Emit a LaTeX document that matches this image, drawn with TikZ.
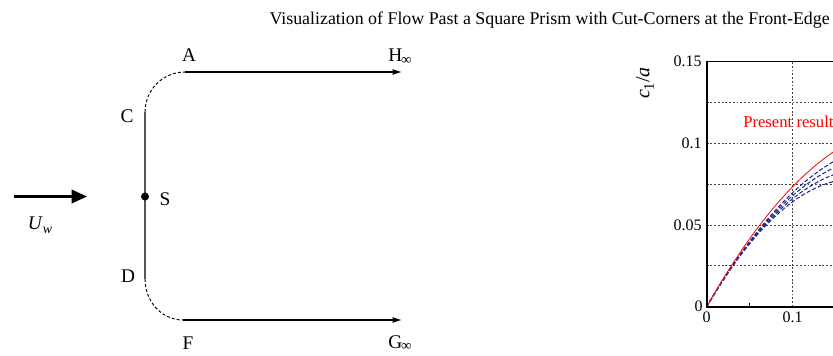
\documentclass[tikz,border=0pt]{standalone}
\usepackage{fontspec}
\setmainfont{Liberation Serif}
\usetikzlibrary{arrows.meta}
\definecolor{wallgray}{HTML}{555555}
\definecolor{simblue}{HTML}{1F2A8C}

\begin{document}
\begin{tikzpicture}[
  x=0.75pt, y=-0.75pt,
  lbl/.style={inner sep=0pt,font=\fontsize{14.5}{16}\selectfont},
  flow/.style={-{Latex[length=7pt,width=4.5pt]},line width=0.9pt},
  wall/.style={draw=wallgray,line width=1.4pt},
  cutedge/.style={dash pattern=on 2.2pt off 1.6pt,line width=0.7pt},
  ticklbl/.style={inner sep=0pt,font=\fontsize{12}{12}\selectfont},
  gridline/.style={black!75,dash pattern=on 1.4pt off 1.4pt,line width=0.6pt},
  axis/.style={line width=1.3pt},
  sim/.style={simblue,dash pattern=on 3pt off 1.6pt,line width=0.8pt}
]
\useasboundingbox (0,0) rectangle (833,356);

% running head
\node[anchor=base east,inner sep=0pt,font=\fontsize{13.4}{14}\selectfont] (title) at (830,25)
  {Visualization of Flow Past a Square Prism with Cut-Corners at the Front-Edge};

% front face and free streamlines
\coordinate (c) at (145,112);
\coordinate (d) at (145,279);
\coordinate (a) at (185,72);
\coordinate (f) at (183,320);
\coordinate (hinf) at (402,72);
\coordinate (ginf) at (402,320);
\draw[wall] (c) -- (d);
\node[circle,fill,inner sep=0pt,minimum size=6pt] (s) at (145,196.5) {};
\draw[cutedge] (c) to[out=90,in=180] (a);
\draw[cutedge] (d) to[out=-90,in=180] (f);
\draw[flow] (a) -- (hinf);
\draw[flow] (f) -- (ginf);

\node[lbl] (lblA) at (189,55) {A};
\node[lbl] (lblC) at (127,116) {C};
\node[lbl] (lblS) at (165,199) {S};
\node[lbl] (lblD) at (128,276) {D};
\node[lbl] (lblF) at (188,343) {F};
\node[lbl] (lblH) at (400,57) {H\kern-1pt\raisebox{-0.3ex}{\fontsize{11}{11}\selectfont ∞}};
\node[lbl] (lblG) at (400,343) {G\kern-1pt\raisebox{-0.3ex}{\fontsize{11}{11}\selectfont ∞}};

% oncoming stream
\coordinate (uw0) at (14,196.5);
\coordinate (uw1) at (87,196.5);
\draw[-{Triangle[length=11.5pt,width=10pt]},line width=1.8pt] (uw0) -- (uw1);
\node[lbl] (uw) at (40,225) {\textit{U}\raisebox{-0.5ex}{\fontsize{10.5}{10}\selectfont\itshape w}};

% plot c1/a
\begin{scope}[shift={(706.7,306.7)},x=645pt,y=1225.5pt]
  \begin{scope}
    \clip (-0.02,-0.02) rectangle (0.14686,0.16);
    \foreach \v in {0.025,0.05,0.075,0.1,0.125}
      \draw[gridline] (0,\v) -- (0.2,\v);
    \draw[gridline] (0.1,0) -- (0.1,0.15);
    \draw[line width=0.6pt] (0.05,0) -- (0.05,0.002);
    \foreach \b in {2.02,2.2,2.39,2.58}
      \draw[sim,domain=0:0.16,samples=40] plot (\x,{0.9*\x-\b*\x*\x});
    \draw[red,line width=0.6pt,domain=0:0.16,samples=40] plot (\x,{0.93*\x-1.95*\x*\x});
    \draw[axis] (0.2,0) -- (0,0) -- (0,0.15) -- (0.2,0.15);
    \node[anchor=west,inner sep=0pt,text=red,font=\fontsize{12.5}{13}\selectfont] (present) at (0.0422,0.1132) {Present result};
  \end{scope}
  \node[ticklbl,anchor=east] (y0) at (-0.0045,0) {0};
  \node[ticklbl,anchor=east] (y05) at (-0.0055,0.05) {0.05};
  \node[ticklbl,anchor=east] (y10) at (-0.0055,0.1) {0.1};
  \node[ticklbl,anchor=east] (y15) at (-0.0055,0.15) {0.15};
  \node[ticklbl,anchor=north] (x0) at (0,-0.003) {0};
  \node[ticklbl,anchor=north] (x10) at (0.1,-0.003) {0.1};
\end{scope}
\node[rotate=90,inner sep=0pt,font=\fontsize{15}{16}\selectfont] (ylab) at (645,83)
  {\textit{c}\raisebox{-0.5ex}{\fontsize{11}{11}\selectfont 1}/\textit{a}};
\end{tikzpicture}
\end{document}
